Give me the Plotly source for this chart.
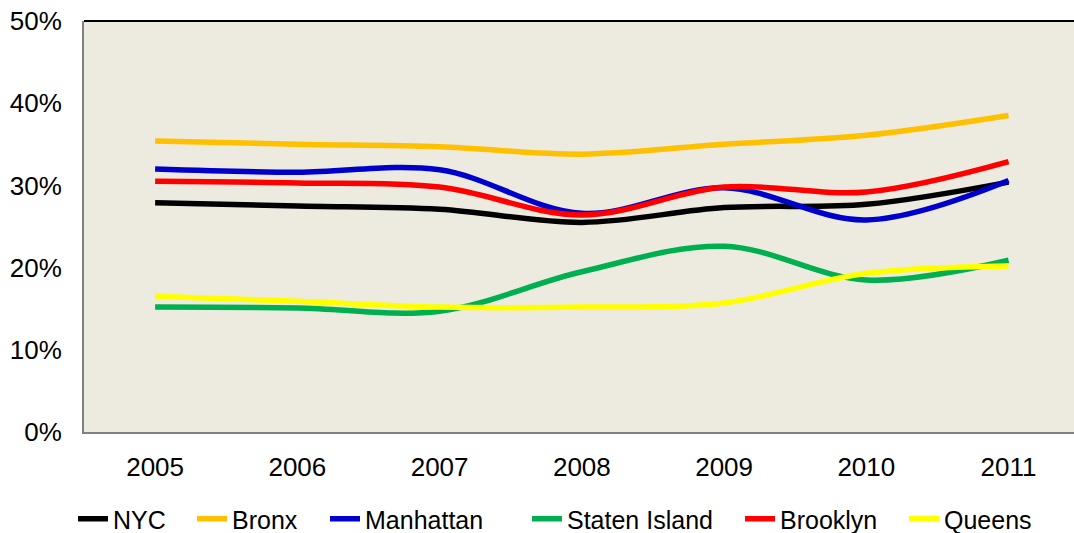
import plotly.graph_objects as go

years = ["2005", "2006", "2007", "2008", "2009", "2010", "2011"]
nyc = [27.9, 27.5, 27.1, 25.5, 27.3, 27.7, 30.4]
bronx = [35.4, 35.0, 34.7, 33.8, 35.0, 36.1, 38.5]
manhattan = [32.0, 31.6, 31.9, 26.6, 29.7, 25.8, 30.6]
staten_island = [15.2, 15.1, 14.7, 19.5, 22.6, 18.5, 20.9]
brooklyn = [30.5, 30.3, 29.8, 26.4, 29.8, 29.2, 32.9]
queens = [16.5, 15.9, 15.2, 15.2, 15.7, 19.3, 20.2]
y_ticks = [0, 10, 20, 30, 40, 50]
y_labels = ["0%", "10%", "20%", "30%", "40%", "50%"]

series = [
    ("NYC", nyc, "#000000"),
    ("Bronx", bronx, "#FFC000"),
    ("Manhattan", manhattan, "#0000CC"),
    ("Staten Island", staten_island, "#00B050"),
    ("Brooklyn", brooklyn, "#FF0000"),
    ("Queens", queens, "#FFFF00"),
]
# left edge (px) of each legend entry's text in the reference
legend_text_px = [113, 232, 365, 567, 780, 944]

x = list(range(len(years)))

fig = go.Figure()
legends = {}
for i, (name, vals, color) in enumerate(series):
    key = "legend" if i == 0 else "legend%d" % (i + 1)
    fig.add_trace(go.Scatter(x=x, y=vals, name=name, mode="lines", legend=key,
                             line=dict(color=color, width=5.5, shape="spline", smoothing=1.0)))
    legends[key] = dict(orientation="h", x=(legend_text_px[i] - 40 - 84) / 990, xanchor="left",
                        y=-0.2117, yanchor="middle", font=dict(size=25), bgcolor="rgba(0,0,0,0)",
                        itemwidth=30)

fig.update_layout(
    width=1074, height=542,
    margin=dict(l=84, r=0, t=21, b=110),
    paper_bgcolor="white",
    plot_bgcolor="#EDEAE0",
    font=dict(family="Liberation Sans, Arial", size=26, color="black"),
    showlegend=True,
    **legends,
)
fig.update_xaxes(range=[-0.5, 6.46], tickmode="array", tickvals=x, ticktext=years,
                 showgrid=False, zeroline=False, showline=True, linecolor="#808080", linewidth=2,
                 ticks="", ticklabelstandoff=11, automargin=False)
fig.update_yaxes(range=[0, 50], tickmode="array", tickvals=y_ticks, ticktext=y_labels,
                 showgrid=False, zeroline=False, showline=True, linecolor="#808080", linewidth=2,
                 ticks="", ticklabelstandoff=15, automargin=False)
fig.add_shape(type="line", xref="paper", yref="paper", x0=0, x1=1, y0=1, y1=1,
              line=dict(color="black", width=2))

# page has a default body margin; drop it so the figure fills the window exactly
css = "document.body.style.margin='0';document.body.style.overflow='hidden';"
fig.write_html("out.html", config={"displayModeBar": False}, post_script=css)
